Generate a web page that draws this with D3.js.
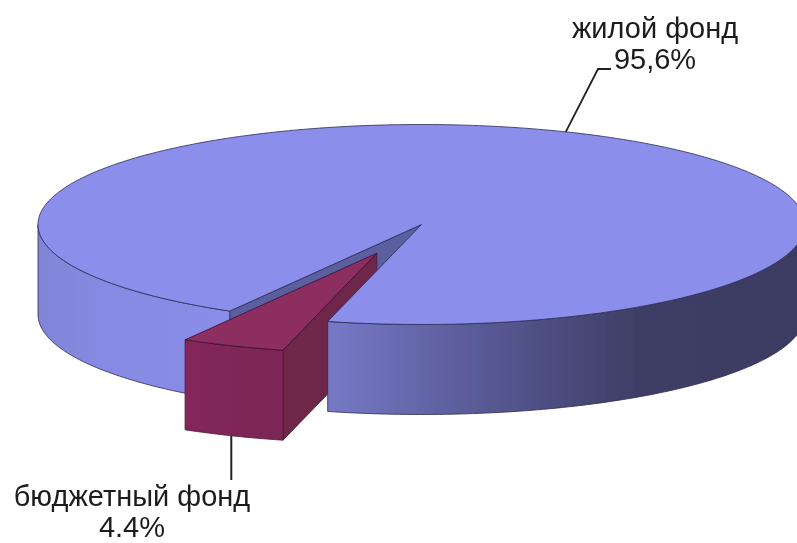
<!DOCTYPE html>
<html lang="ru">
<head>
<meta charset="utf-8">
<style>html,body{margin:0;padding:0;background:#fff;overflow:hidden}svg{display:block}</style>
<script src="https://cdn.jsdelivr.net/npm/d3@7"></script>
</head>
<body>
<svg id="chart" width="797" height="543"></svg>
<script>
const categories = ["жилой фонд", "бюджетный фонд"];
const values = [95.6, 4.4];
const valueLabels = ["95,6%", "4.4%"];

const W = 797, H = 543;
const cx = 421.5, cy = 224.5, rx = 383.5, ry = 100, depth = 90, explode = 0.31;
const rad = d => d * Math.PI / 180;

const xS = d3.scaleLinear().domain([-1, 1]).range([cx - rx, cx + rx]);
const yS = d3.scaleLinear().domain([-1, 1]).range([cy - ry, cy + ry]);

const arcs = d3.pie().sort(null).value(d => d).startAngle(rad(210)).endAngle(rad(570))(values);
const main = arcs[0], slice = arcs[1];
const mid = (slice.startAngle + slice.endAngle) / 2;
const ox = explode * Math.sin(mid), oy = -explode * Math.cos(mid);

const pt = (a, r = 1, dx = 0, dy = 0, drop = 0) =>
  [xS(r * Math.sin(a) + dx), yS(-r * Math.cos(a) + dy) + drop];
const samples = (a0, a1) => {
  const n = Math.max(2, Math.ceil(Math.abs(a1 - a0) / rad(1)));
  return d3.range(n + 1).map(i => a0 + (a1 - a0) * i / n);
};
const line = d3.line();
const closed = pts => line(pts) + "Z";
const band = (a0, a1, dx = 0, dy = 0) => {
  const s = samples(a0, a1);
  return closed([...s.map(a => pt(a, 1, dx, dy)), ...s.slice().reverse().map(a => pt(a, 1, dx, dy, depth))]);
};

const svg = d3.select("#chart").attr("viewBox", [0, 0, W, H]);
const defs = svg.append("defs");

const soft = defs.append("filter").attr("id", "soft")
  .attr("filterUnits", "userSpaceOnUse").attr("x", -10).attr("y", -10).attr("width", W + 20).attr("height", H + 20);
soft.append("feGaussianBlur").attr("stdDeviation", 0.6);

const grad = (id, x1, x2, stops) => {
  const g = defs.append("linearGradient").attr("id", id).attr("gradientUnits", "userSpaceOnUse")
    .attr("x1", x1).attr("x2", x2).attr("y1", 0).attr("y2", 0);
  stops.forEach(([o, c]) => g.append("stop").attr("offset", o).attr("stop-color", c));
};
grad("wall", 38, 805, [[0, "#8084d6"], [0.08, "#878ae2"], [0.25, "#8a8de8"], [0.379, "#7779c6"],
  [0.55, "#5c5e9c"], [0.78, "#3e3e66"], [1, "#3b3b62"]]);
grad("front", 183, 284, [[0, "#84285c"], [1, "#7b2654"]]);

const edge = "#2c2c55";
const g = svg.append("g").attr("filter", "url(#soft)");

// inner wall seen through the gap
const c0 = pt(0, 0), cA = pt(main.startAngle);
g.append("path").attr("fill", "#5c5f9f").attr("stroke", edge).attr("stroke-width", 0.8)
  .attr("d", closed([c0, cA, [cA[0], cA[1] + depth], [c0[0], c0[1] + depth]]));

// radial side of the pulled-out slice
const apex = pt(0, 0, ox, oy), sE = pt(slice.startAngle, 1, ox, oy);
g.append("path").attr("fill", "#6e2549").attr("stroke", "#4a1a38").attr("stroke-width", 0.8)
  .attr("d", closed([apex, sE, [sE[0], sE[1] + depth], [apex[0], apex[1] + depth]]));

// outer wall of the main pie
[[main.startAngle, rad(270)], [rad(450), main.endAngle]].forEach(([a0, a1]) => {
  g.append("path").attr("fill", "url(#wall)").attr("stroke", edge).attr("stroke-width", 0.8)
    .attr("d", band(a0, a1));
});

// top of the main pie
g.append("path").attr("fill", "#8b8eea").attr("stroke", edge).attr("stroke-width", 0.8)
  .attr("d", closed([c0, ...samples(main.startAngle, main.endAngle).map(a => pt(a))]));

// pulled-out slice: front and top
g.append("path").attr("fill", "url(#front)").attr("stroke", "#4a1a38").attr("stroke-width", 0.8)
  .attr("d", band(slice.startAngle, slice.endAngle, ox, oy));
g.append("path").attr("fill", "#8c2d5e").attr("stroke", "#3a1230").attr("stroke-width", 0.8)
  .attr("d", closed([apex, ...samples(slice.startAngle, slice.endAngle).map(a => pt(a, 1, ox, oy))]));

// leaders: anchored on the rim of each slice
const rimMain = pt(rad(22.1));
g.append("path").attr("fill", "none").attr("stroke", "#222").attr("stroke-width", 1.8)
  .attr("d", line([rimMain, [598, 69], [611, 69]]));
const rimSlice = pt(rad(202.3), 1, ox, oy, depth);
g.append("path").attr("fill", "none").attr("stroke", "#222").attr("stroke-width", 2)
  .attr("d", line([rimSlice, [rimSlice[0], 480]]));

// labels
const fs = 29;
const label = (x, y, t) => g.append("text").attr("x", x).attr("y", y).attr("text-anchor", "middle")
  .attr("font-family", "Liberation Sans, Arial, sans-serif").attr("font-size", fs).attr("fill", "#1c1c1c").text(t);
label(655, 38, categories[0]);
label(655, 69, valueLabels[0]);
label(132, 505.5, categories[1]);
label(132, 536.5, valueLabels[1]);
</script>
</body>
</html>
